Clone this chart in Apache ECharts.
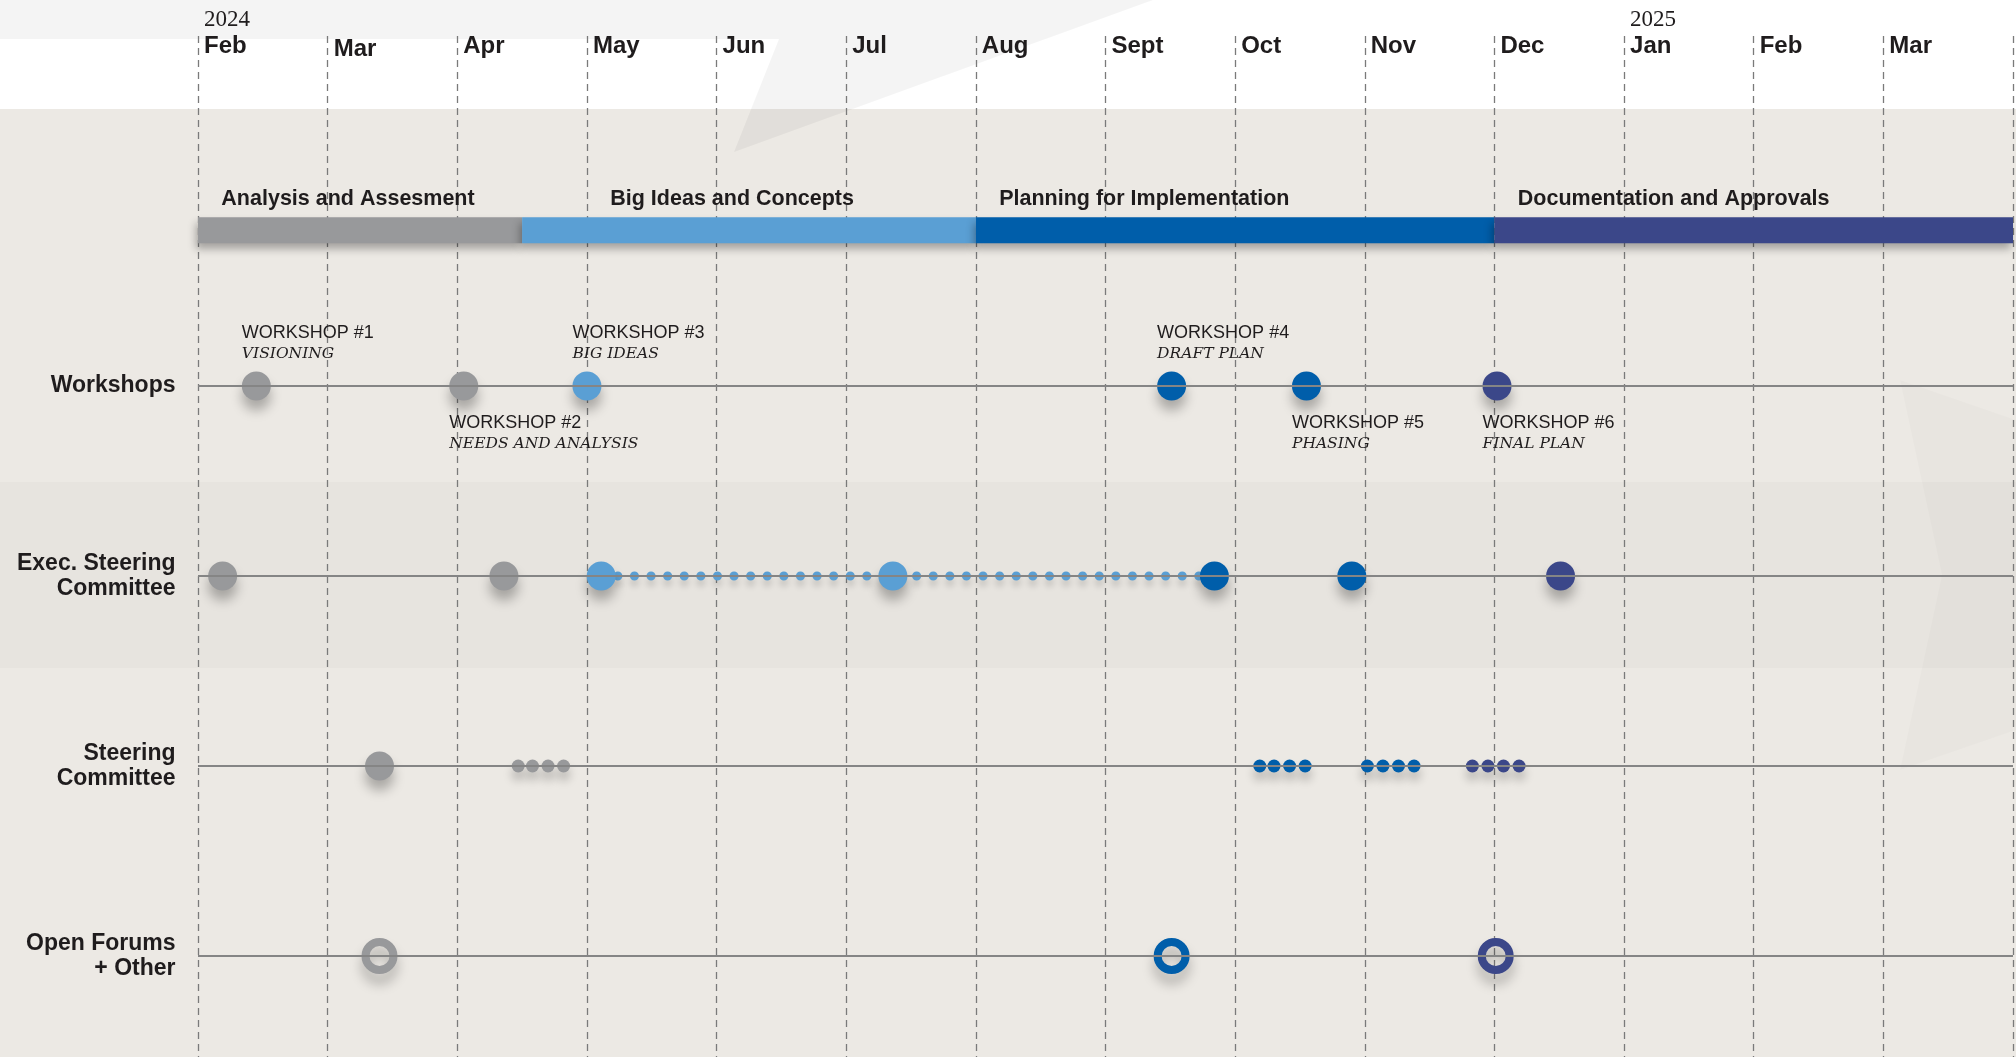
<!DOCTYPE html>
<html>
<head>
<meta charset="utf-8">
<title>Engagement timeline</title>
<script src="https://cdn.jsdelivr.net/npm/echarts@6/dist/echarts.min.js"></script>
<style>
  html, body { margin: 0; padding: 0; background: #ece9e4; }
  #chart { width: 2016px; height: 1057px; }
</style>
</head>
<body>
<div id="chart"></div>
<script>
// x is counted in months, 0 = start of Feb 2024
const monthLabels = ["Feb", "Mar", "Apr", "May", "Jun", "Jul", "Aug", "Sept", "Oct", "Nov", "Dec", "Jan", "Feb", "Mar"];
const yearLabels = { 0: "2024", 11: "2025" };
// the first "Mar" sits a touch lower in the original
const loweredMonths = [1];

const phaseNames = ["Analysis and Assesment", "Big Ideas and Concepts", "Planning for Implementation", "Documentation and Approvals"];
const phaseStart = [0, 2.5, 6, 10];
const phaseEnd = [2.5, 6, 10, 14];
const phaseLabelAt = [0.18, 3.18, 6.18, 10.18];
const phaseColors = ["#98999b", "#5a9fd4", "#005eaa", "#3b4789"];

const rowNames = ["Workshops", "Exec. Steering\nCommittee", "Steering\nCommittee", "Open Forums\n+ Other"];

const workshopMonths = [0.45, 2.05, 3.0, 7.51, 8.55, 10.02];
const workshopPhase = [0, 0, 1, 2, 2, 3];
const workshopTitles = ["WORKSHOP #1", "WORKSHOP #2", "WORKSHOP #3", "WORKSHOP #4", "WORKSHOP #5", "WORKSHOP #6"];
const workshopSubtitles = ["VISIONING", "NEEDS AND ANALYSIS", "BIG IDEAS", "DRAFT PLAN", "PHASING", "FINAL PLAN"];
const workshopLabelAbove = [true, false, true, true, false, false];

const execMonths = [0.19, 2.36, 3.11, 5.36, 7.84, 8.9, 10.51];
const execPhase = [0, 0, 1, 1, 2, 2, 3];
// meetings joined by the dotted run
const execLinked = [2, 3, 4];

const steeringMonths = [1.4];
const steeringPhase = [0];
const steeringSmallMonths = [2.47, 2.58, 2.7, 2.82, 8.19, 8.3, 8.42, 8.54, 9.02, 9.14, 9.26, 9.38, 9.83, 9.95, 10.07, 10.19];
const steeringSmallPhase = [0, 0, 0, 0, 2, 2, 2, 2, 2, 2, 2, 2, 3, 3, 3, 3];

const forumMonths = [1.4, 7.51, 10.01];
const forumPhase = [0, 2, 3];

const PHASE_ROW = 0.18;
const SANS = "'Liberation Sans', Arial, sans-serif";
const SERIF = "'DejaVu Serif', serif";
const TEXT = "#1f1c1d";

const dotShadow = {
  opacity: 1,
  shadowBlur: 12,
  shadowOffsetY: 10,
  shadowColor: "rgba(0, 0, 0, 0.28)"
};

function dotData(months, phases, row) {
  return months.map((m, i) => ({
    value: [m, row],
    itemStyle: { color: phaseColors[phases[i]] }
  }));
}

const workshopData = workshopMonths.map((m, i) => ({
  value: [m, 1],
  itemStyle: { color: phaseColors[workshopPhase[i]] },
  label: {
    show: true,
    position: [0, workshopLabelAbove[i] ? -49 : 41],
    formatter: `{a|${workshopTitles[i]}}\n{b|${workshopSubtitles[i]}}`
  }
}));

const chart = echarts.init(document.getElementById("chart"));

chart.setOption({
  animation: false,
  backgroundColor: "#ece9e4",
  graphic: [
    { type: "rect", z: -10, shape: { x: 0, y: 0, width: 2016, height: 109 }, style: { fill: "#ffffff" } },
    {
      type: "polygon", z: -9,
      shape: { points: [[0, 0], [1153, 0], [734, 152], [779, 39], [0, 39]] },
      style: { fill: "rgba(0, 0, 0, 0.042)" }
    },
    { type: "rect", z: -9, shape: { x: 0, y: 482, width: 2016, height: 186 }, style: { fill: "rgba(0, 0, 0, 0.02)" } },
    {
      type: "polygon", z: -8,
      shape: { points: [[1900, 380], [2016, 420], [2016, 730], [1900, 770], [1942, 575]] },
      style: { fill: "rgba(0, 0, 0, 0.016)" }
    }
  ],
  grid: { left: 198, right: 1, top: 36, bottom: 0 },
  xAxis: {
    type: "value",
    position: "top",
    min: 0,
    max: 14,
    interval: 1,
    axisLine: { show: false },
    axisTick: { show: false },
    splitLine: { show: true, lineStyle: { color: "#7a7a7a", width: 1.3, type: [7, 5] } },
    axisLabel: {
      show: true,
      margin: -24,
      align: "left",
      padding: [0, 0, 0, 6],
      formatter: (v) => {
        const i = Math.round(v);
        const m = monthLabels[i];
        if (!m) return "";
        const style = loweredMonths.includes(i) ? "ml" : "m";
        return yearLabels[i] ? `{y|${yearLabels[i]}}\n{${style}|${m}}` : `{${style}|${m}}`;
      },
      rich: {
        m: { fontFamily: SANS, fontWeight: "bold", fontSize: 24, lineHeight: 28, color: TEXT },
        ml: { fontFamily: SANS, fontWeight: "bold", fontSize: 24, lineHeight: 22, color: TEXT },
        y: { fontFamily: "'Liberation Serif', serif", fontSize: 23, lineHeight: 25, color: TEXT }
      }
    }
  },
  yAxis: {
    type: "value",
    inverse: true,
    min: 1 - 350 / 190,
    max: 4 + 101 / 190,
    show: false
  },
  series: [
    {
      // row names + row baselines
      type: "scatter",
      symbolSize: 1,
      itemStyle: { color: "rgba(0,0,0,0)", opacity: 1 },
      silent: true,
      z: 1,
      data: rowNames.map((name, i) => ({ value: [0, i + 1], name })),
      label: {
        show: true,
        position: "left",
        distance: 22,
        formatter: (p) => p.name,
        fontFamily: SANS,
        fontWeight: "bold",
        fontSize: 23,
        lineHeight: 25,
        color: TEXT
      },
      markLine: {
        silent: true,
        symbol: ["none", "none"],
        label: { show: false },
        lineStyle: { color: "#858585", width: 2, type: "solid", opacity: 1 },
        data: rowNames.map((_, i) => ({ yAxis: i + 1 }))
      }
    },
    {
      // phase bar
      type: "custom",
      clip: false,
      z: 2,
      data: phaseNames.map((name, i) => [phaseStart[i], phaseEnd[i], phaseLabelAt[i], i]),
      renderItem: (params, api) => {
        const i = api.value(3);
        const s = api.coord([api.value(0), PHASE_ROW]);
        const e = api.coord([api.value(1), PHASE_ROW]);
        const l = api.coord([api.value(2), PHASE_ROW]);
        return {
          type: "group",
          children: [
            {
              type: "rect",
              shape: { x: s[0], y: s[1] - 13, width: e[0] - s[0], height: 26 },
              style: {
                fill: phaseColors[i],
                shadowBlur: 8,
                shadowOffsetX: -2,
                shadowOffsetY: 6,
                shadowColor: "rgba(0, 0, 0, 0.3)"
              }
            },
            {
              type: "text",
              x: l[0],
              y: s[1] - 31,
              style: {
                text: phaseNames[i],
                fill: TEXT,
                font: `bold 21.5px ${SANS}`,
                align: "left",
                verticalAlign: "middle"
              }
            }
          ]
        };
      }
    },
    {
      // dotted run between exec meetings
      type: "line",
      symbol: "none",
      z: 3,
      silent: true,
      data: execLinked.map((k) => [execMonths[k], 2]),
      lineStyle: {
        color: phaseColors[1],
        width: 9,
        opacity: 1,
        type: [0.1, 16.5],
        cap: "round",
        shadowBlur: 6,
        shadowOffsetY: 6,
        shadowColor: "rgba(0, 0, 0, 0.15)"
      }
    },
    {
      type: "scatter",
      name: "Workshops",
      symbolSize: 29,
      z: 4,
      itemStyle: dotShadow,
      label: {
        rich: {
          a: { fontFamily: SANS, fontSize: 18, lineHeight: 21, color: TEXT },
          b: { fontFamily: SERIF, fontStyle: "italic", fontSize: 15.5, lineHeight: 21, color: TEXT }
        }
      },
      data: workshopData
    },
    {
      type: "scatter",
      name: "Exec. Steering Committee",
      symbolSize: 29,
      z: 4,
      itemStyle: dotShadow,
      data: dotData(execMonths, execPhase, 2)
    },
    {
      type: "scatter",
      name: "Steering Committee",
      symbolSize: 29,
      z: 4,
      itemStyle: dotShadow,
      data: dotData(steeringMonths, steeringPhase, 3)
    },
    {
      type: "scatter",
      name: "Steering Committee small",
      symbolSize: 13,
      z: 4,
      itemStyle: { opacity: 1, shadowBlur: 10, shadowOffsetY: 8, shadowColor: "rgba(0, 0, 0, 0.22)" },
      data: dotData(steeringSmallMonths, steeringSmallPhase, 3)
    },
    {
      type: "scatter",
      name: "Open Forums + Other",
      symbolSize: 28,
      z: 4,
      data: forumMonths.map((m, i) => ({
        value: [m, 4],
        itemStyle: {
          opacity: 1,
          color: "rgba(0, 0, 0, 0)",
          borderColor: phaseColors[forumPhase[i]],
          borderWidth: 8,
          shadowBlur: 12,
          shadowOffsetY: 10,
          shadowColor: "rgba(0, 0, 0, 0.25)"
        }
      }))
    }
  ]
});
</script>
</body>
</html>
